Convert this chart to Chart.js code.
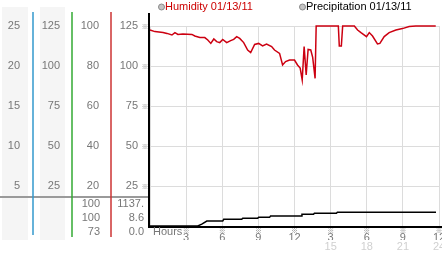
<!DOCTYPE html>
<html><head><meta charset="utf-8">
<script src="https://cdn.jsdelivr.net/npm/chart.js@4.4.0/dist/chart.umd.min.js"></script>
<style>html,body{margin:0;padding:0;background:#fff;overflow:hidden}</style>
</head><body>
<canvas id="c" width="442" height="253"></canvas>
<script>
// ---- data ----
const seriesNames = ['Humidity 01/13/11', 'Precipitation 01/13/11'];
const humidityHours = [0,0.41,1.08,1.41,1.82,2.07,2.32,2.73,3.48,3.72,4.14,4.55,4.80,5.05,5.30,5.54,5.79,6.04,6.37,6.70,6.95,7.20,7.45,7.78,8.11,8.36,8.69,9.02,9.35,9.68,10.10,10.34,10.76,11.01,11.26,11.59,12.0,12.25,12.47,12.64,12.80,12.97,13.13,13.35,13.51,13.71,13.80,15.64,15.72,15.89,16.0,16.97,17.24,17.52,17.98,18.21,18.48,18.89,19.09,19.45,19.86,20.42,20.96,21.52,22.07,23.73];
const humidityValues = [98,97.2,96.8,96.3,95.5,96.7,95.8,96,95.8,95,94.3,94.2,93,91.3,93.5,92.2,91.7,93.3,91.7,92.7,93.3,94.7,93.8,91.7,88,86.7,90.8,91.3,90,91,89.7,88,86.3,80.5,82.2,83,83,80.5,79,73,89.7,75.5,88.3,88,84.3,73.8,100,100,90,90,100,100,98,96.7,94.7,96.7,95,91,91.3,94.7,96.7,98,98.7,99.7,100,100];
const precipHours = [0,3.97,4.30,4.72,6.04,6.12,7.61,7.70,8.94,9.02,9.93,10.01,12.58,12.62,13.57,13.65,15.48,15.56,23.75];
const precipValues = [0,0,1.2,3.1,3.1,4.2,4.2,4.8,4.8,5.4,5.4,6.2,6.2,7.3,7.3,7.9,7.9,8.6,8.6];
const xTickHours = [3,6,9,12,15,18,21,24];
const xTickLabels = ['3','6','9','12','3','6','9','12'];
const xTickLabels24 = ['','','','','15','18','21','24'];
const humiditySummary = ['100','100','73'];
const precipSummary = ['1137.','8.6','0.0'];

Chart.defaults.font.family = '"Liberation Sans", Arial, sans-serif';
Chart.defaults.font.size = 11;

function yAxis(weight, max, step, width, pad, grid) {
  return {
    type: 'linear', position: 'left', weight: weight, min: 0, max: max,
    ticks: { stepSize: step, padding: pad, color: '#777', callback: v => v === 0 ? '' : String(v) },
    grid: { display: grid, drawTicks: false, color: '#dcdcdc', lineWidth: 1 },
    border: { display: false },
    afterFit(s) { s.width = width; s.paddingTop = 0; s.paddingBottom = 0; }
  };
}

const deco = {
  id: 'deco',
  beforeDraw(chart) {
    const ctx = chart.ctx;
    ctx.save();
    ctx.fillStyle = '#f5f5f5';
    ctx.fillRect(2, 7, 26, 233);
    ctx.fillRect(40, 7, 25, 233);
    ctx.restore();
  },
  afterDraw(chart) {
    const ctx = chart.ctx;
    const ca = chart.chartArea;
    const font = '11px "Liberation Sans", Arial, sans-serif';
    ctx.save();
    // gray separator under axis labels
    ctx.strokeStyle = '#9a9a9a'; ctx.lineWidth = 2;
    ctx.beginPath(); ctx.moveTo(0, 197); ctx.lineTo(149, 197); ctx.stroke();
    // colored axis separators
    const seps = [[chart.scales.y1.right, '#3399cc', 235], [chart.scales.y2.right, '#33aa33', 237], [chart.scales.y3.right, '#cc3333', 237]];
    ctx.lineWidth = 1.5;
    seps.forEach(([x, c, b]) => { ctx.strokeStyle = c; ctx.beginPath(); ctx.moveTo(x, 12); ctx.lineTo(x, b); ctx.stroke(); });
    // black axes
    ctx.strokeStyle = '#000'; ctx.lineWidth = 2;
    ctx.beginPath(); ctx.moveTo(ca.left - 1, 13); ctx.lineTo(ca.left - 1, ca.bottom + 1); ctx.lineTo(442, ca.bottom + 1); ctx.stroke();
    // small tick marks
    ctx.fillStyle = '#888'; ctx.font = '7px "Noto Sans CJK JP", "DejaVu Sans", sans-serif';
    ctx.textAlign = 'center'; ctx.textBaseline = 'middle';
    chart.scales.y4.ticks.forEach(t => { if (t.value > 0) ctx.fillText('\u203B', 145, chart.scales.y4.getPixelForValue(t.value)); });
    xTickHours.forEach(h => ctx.fillText('\u203B', chart.scales.x.getPixelForValue(h), 230));
    // Hours label
    ctx.font = font; ctx.fillStyle = '#777'; ctx.textAlign = 'left';
    ctx.fillText('Hours', 153, 232);
    // summary table
    ctx.textAlign = 'right';
    const rows = [204, 218, 232];
    humiditySummary.forEach((t, i) => ctx.fillText(t, 100, rows[i]));
    precipSummary.forEach((t, i) => ctx.fillText(t, 144, rows[i]));
    // legend
    const leg = [[161.5, 165, '#cc0000'], [302.5, 306, '#000']];
    chart.data.datasets.forEach((ds, i) => {
      const [cx, tx, col] = leg[i];
      ctx.beginPath(); ctx.arc(cx, 7, 3, 0, Math.PI * 2);
      ctx.fillStyle = '#c4c4c4'; ctx.fill(); ctx.strokeStyle = '#8a8a8a'; ctx.lineWidth = 1; ctx.stroke();
      ctx.fillStyle = col; ctx.textAlign = 'left'; ctx.font = font;
      ctx.fillText(ds.label, tx, 7);
    });
    ctx.restore();
  }
};

new Chart(document.getElementById('c'), {
  type: 'line',
  data: {
    datasets: [
      { label: seriesNames[0], data: humidityHours.map((h, i) => ({ x: h, y: humidityValues[i] })),
        borderColor: '#cc0011', borderWidth: 1.5, pointRadius: 0, tension: 0, xAxisID: 'x', yAxisID: 'y3', clip: false },
      { label: seriesNames[1], data: precipHours.map((h, i) => ({ x: h, y: precipValues[i] })),
        borderColor: '#000', borderWidth: 1.5, pointRadius: 0, tension: 0, xAxisID: 'x', yAxisID: 'y4', clip: false }
    ]
  },
  options: {
    responsive: false, animation: false, devicePixelRatio: 1,
    layout: { padding: { left: 0, top: 26, right: 3, bottom: 0 } },
    plugins: { legend: { display: false }, tooltip: { enabled: false } },
    scales: {
      x: {
        type: 'linear', position: 'bottom', weight: 0, min: 0, max: 24,
        ticks: { stepSize: 3, padding: 5, color: '#777', maxRotation: 0, autoSkip: false,
          callback: v => { const i = xTickHours.indexOf(v); return i >= 0 ? xTickLabels[i] : ''; } },
        grid: { display: true, drawTicks: false, color: '#dcdcdc' },
        border: { display: false },
        afterFit(s) { s.height = 14; s.paddingLeft = 0; s.paddingRight = 0; }
      },
      x2: {
        type: 'linear', position: 'bottom', weight: 1, min: 0, max: 24,
        ticks: { stepSize: 3, padding: 0, color: '#d0d0d0', maxRotation: 0, autoSkip: false,
          callback: v => { const i = xTickHours.indexOf(v); return i >= 0 ? xTickLabels24[i] : ''; } },
        grid: { display: false, drawTicks: false },
        border: { display: false },
        afterFit(s) { s.height = 13; s.paddingLeft = 0; s.paddingRight = 0; }
      },
      y1: yAxis(4, 25, 5, 33, 13, false),
      y2: yAxis(3, 125, 25, 39, 12, false),
      y3: yAxis(2, 100, 20, 39, 12, false),
      y4: yAxis(1, 125, 25, 39, 12, true)
    }
  },
  plugins: [deco]
});
</script>
</body></html>
